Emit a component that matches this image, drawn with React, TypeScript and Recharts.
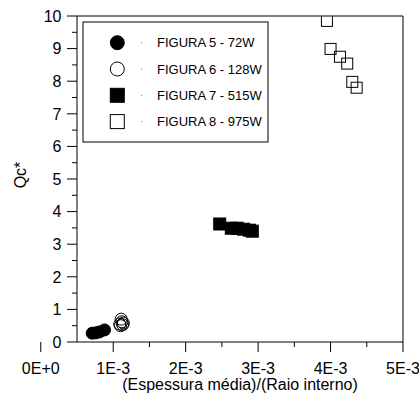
import { ScatterChart, Scatter, XAxis, YAxis, ReferenceLine, Legend } from 'recharts'

// data
const fig5 = [
  { x: 0.00071, y: 0.27 },
  { x: 0.00076, y: 0.28 },
  { x: 0.00081, y: 0.31 },
  { x: 0.00088, y: 0.37 },
]
const fig6 = [
  { x: 0.00109, y: 0.55 },
  { x: 0.00111, y: 0.7 },
  { x: 0.00112, y: 0.62 },
  { x: 0.00113, y: 0.53 },
  { x: 0.00114, y: 0.58 },
  { x: 0.0011, y: 0.5 },
]
const fig7 = [
  { x: 0.00247, y: 3.62 },
  { x: 0.00263, y: 3.49 },
  { x: 0.00271, y: 3.49 },
  { x: 0.0028, y: 3.46 },
  { x: 0.00288, y: 3.43 },
  { x: 0.00292, y: 3.4 },
]
const fig8 = [
  { x: 0.00395, y: 9.85 },
  { x: 0.004, y: 8.99 },
  { x: 0.00413, y: 8.75 },
  { x: 0.00423, y: 8.54 },
  { x: 0.0043, y: 7.98 },
  { x: 0.00436, y: 7.8 },
]

const xTicks = [0, 0.001, 0.0015, 0.002, 0.0025, 0.003, 0.0035, 0.004, 0.0045, 0.005]
const yTicks = [0, 0.5, 1, 1.5, 2, 2.5, 3, 3.5, 4, 4.5, 5, 5.5, 6, 6.5, 7, 7.5, 8, 8.5, 9, 9.5, 10]

const series = [
  { name: 'FIGURA 5 - 72W', data: fig5, kind: 'circle', filled: true },
  { name: 'FIGURA 6 - 128W', data: fig6, kind: 'circle', filled: false },
  { name: 'FIGURA 7 - 515W', data: fig7, kind: 'square', filled: true },
  { name: 'FIGURA 8 - 975W', data: fig8, kind: 'square', filled: false },
]

const FONT = '"Liberation Sans", Arial, sans-serif'

const isInt = (v: number) => Math.abs(v - Math.round(v)) < 1e-6

const fmtX = (v: number) => (v === 0 ? '0E+0' : `${Math.round(v * 1000)}E-3`)

function XTick({ x, y, payload }: any) {
  const major = isInt(payload.value * 1000)
  return (
    <g>
      <line x1={x} y1={y} x2={x} y2={y + (major ? 10 : 5)} stroke="#000" />
      {major && (
        <text x={x} y={y + 31.5} textAnchor="middle" fontSize={16} fill="#000">
          {fmtX(payload.value)}
        </text>
      )}
    </g>
  )
}

function YTick({ x, y, payload }: any) {
  const major = isInt(payload.value)
  return (
    <g>
      <line x1={x} y1={y} x2={x - (major ? 10 : 5)} y2={y} stroke="#000" />
      {major && (
        <text x={x - 15.5} y={y + 5.7} textAnchor="end" fontSize={16} fill="#000">
          {payload.value}
        </text>
      )}
    </g>
  )
}

function Marker({ kind, filled, cx, cy, size }: any) {
  const fill = filled ? '#000' : 'none'
  if (kind === 'circle') {
    return <circle cx={cx} cy={cy} r={size / 2} fill={fill} stroke="#000" strokeWidth={1} />
  }
  return (
    <rect x={cx - size / 2} y={cy - size / 2} width={size} height={size} fill={fill} stroke="#000" strokeWidth={1} />
  )
}

function LegendBox() {
  return (
    <svg width={188} height={123} style={{ display: 'block', fontFamily: FONT }}>
      <rect x={1} y={1} width={185} height={120} fill="#fff" stroke="#000" />
      {series.map((s, i) => {
        const cy = 21.7 + i * 26.3
        return (
          <g key={s.name}>
            <Marker kind={s.kind} filled={s.filled} cx={35.3} cy={cy} size={14} />
            <line x1={59.2} y1={cy} x2={60.2} y2={cy} stroke="#666" />
            <text x={75} y={cy + 4.7} fontSize={13} fill="#000">
              {s.name}
            </text>
          </g>
        )
      })}
    </svg>
  )
}

export default function App() {
  return (
    <div style={{ position: 'absolute', left: 0, top: 0, background: '#fff' }}>
      <ScatterChart
        width={419}
        height={396}
        margin={{ top: 16, right: 16, bottom: 0, left: 0 }}
        style={{ fontFamily: FONT }}
      >
        <XAxis
          type="number"
          dataKey="x"
          domain={[0.0005, 0.005]}
          allowDataOverflow
          ticks={xTicks}
          interval={0}
          tick={<XTick />}
          tickLine={false}
          tickSize={0}
          tickMargin={0}
          height={54}
          axisLine={{ stroke: '#000' }}
          label={{
            value: '(Espessura média)/(Raio interno)',
            position: 'insideBottom',
            offset: 6,
            fontSize: 16,
            fill: '#000',
          }}
        />
        <YAxis
          type="number"
          dataKey="y"
          domain={[0, 10]}
          allowDataOverflow
          ticks={yTicks}
          interval={0}
          tick={<YTick />}
          tickLine={false}
          tickSize={0}
          tickMargin={0}
          width={77}
          axisLine={{ stroke: '#000' }}
          label={{ value: 'Qc*', angle: -90, position: 'center', dx: -18, dy: -4, fontSize: 16, fill: '#000' }}
        />
        <ReferenceLine y={10} stroke="#000" />
        <ReferenceLine x={0.005} stroke="#000" />
        <Legend
          layout="horizontal"
          align="center"
          verticalAlign="middle"
          content={() => <LegendBox />}
          wrapperStyle={{ position: 'absolute', left: 82, top: 21, width: 188, height: 123 }}
        />
        {series.map((s) => (
          <Scatter
            key={s.name}
            name={s.name}
            data={s.data}
            isAnimationActive={false}
            shape={(p: any) => (
              <Marker kind={s.kind} filled={s.filled} cx={p.cx} cy={p.cy} size={s.kind === 'circle' ? 12 : s.filled ? 12 : 11} />
            )}
          />
        ))}
      </ScatterChart>
    </div>
  )
}
